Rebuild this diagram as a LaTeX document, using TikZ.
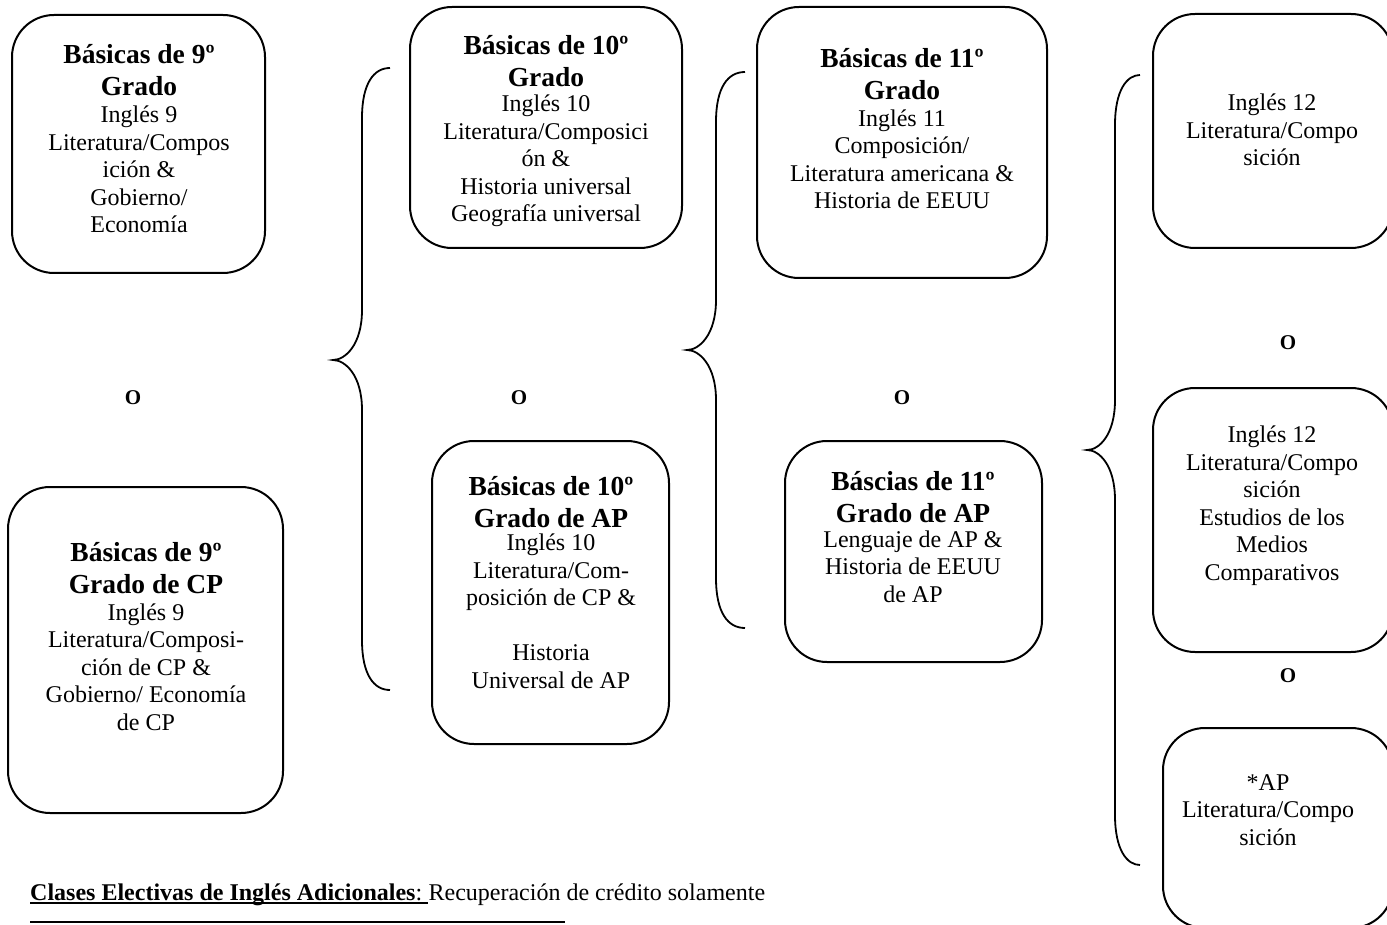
\documentclass[tikz,border=0pt]{standalone}
\usepackage{fontspec}
\setmainfont{Liberation Serif}
\newcommand{\mybrace}[6]{%
  \draw[brc] (#1,#4) .. controls (#2+12,#4) and (#2,#4+15) .. (#2,#4+50)
    -- (#2,#5-50) .. controls (#2,#5-15) and (#3+12,#5) .. (#3,#5)
    .. controls (#3+12,#5) and (#2,#5+15) .. (#2,#5+50)
    -- (#2,#6-50) .. controls (#2,#6-15) and (#2+12,#6) .. (#1,#6);}
\begin{document}
\begin{tikzpicture}[x=1pt,y=-1pt,
  box/.style={draw,line width=2pt,rounded corners=42pt,inner sep=0pt},
  ttl/.style={anchor=base,align=center,inner sep=0pt,font=\fontsize{27.5}{32}\selectfont\bfseries},
  bdy/.style={anchor=base,align=center,inner sep=0pt,font=\fontsize{24}{27.5}\selectfont},
  orl/.style={font=\fontsize{21}{24}\selectfont\bfseries,inner sep=0pt},
  brc/.style={line width=1.8pt}]
\useasboundingbox (0,0) rectangle (1387,925);

% boxes
\node[box,minimum width=253pt,minimum height=258pt] (b1) at (138.5,144) {};
\node[box,minimum width=275pt,minimum height=326pt] (b2) at (145.5,650) {};
\node[box,minimum width=272pt,minimum height=241pt] (b3) at (546,127.5) {};
\node[box,minimum width=237pt,minimum height=303pt] (b4) at (550.5,592.5) {};
\node[box,minimum width=290pt,minimum height=271pt] (b5) at (902,142.5) {};
\node[box,minimum width=257pt,minimum height=221pt] (b6) at (913.5,551.5) {};
\node[box,minimum width=240pt,minimum height=234pt] (b7) at (1273,131) {};
\node[box,minimum width=240pt,minimum height=264pt] (b8) at (1273,520) {};
\node[box,minimum width=230pt,minimum height=200pt] (b9) at (1278,828) {};

% texts (anchor base = baseline of the last line)
\node[ttl] (t1) at (139,96) {Básicas de 9º\\Grado};
\node[bdy] (d1) at (139,233) {Inglés 9\\Literatura/Compos\\ición \&\\Gobierno/\\Economía};

\node[ttl] (t2) at (146,593) {Básicas de 9º\\Grado de CP};
\node[bdy] (d2) at (146,730) {Inglés 9\\Literatura/Composi-\\ción de CP \&\\Gobierno/ Economía\\de CP};

\node[ttl] (t3) at (546,87) {Básicas de 10º\\Grado};
\node[bdy] (d3) at (546,222) {Inglés 10\\Literatura/Composici\\ón \&\\Historia universal\\Geografía universal};

\node[ttl] (t4) at (551,527) {Básicas de 10º\\Grado de AP};
\node[bdy] (d4) at (551,688) {Inglés 10\\Literatura/Com-\\posición de CP \&\\[27.5pt]Historia\\Universal de AP};

\node[ttl] (t5) at (902,100) {Básicas de 11º\\Grado};
\node[bdy] (d5) at (902,209) {Inglés 11\\Composición/\\Literatura americana \&\\Historia de EEUU};

\node[ttl] (t6) at (913,522) {Báscias de 11º\\Grado de AP};
\node[bdy] (d6) at (913,602) {Lenguaje de AP \&\\Historia de EEUU\\de AP};

\node[bdy] (d7) at (1272,166) {Inglés 12\\Literatura/Compo\\sición};
\node[bdy] (d8) at (1272,580) {Inglés 12\\Literatura/Compo\\sición\\Estudios de los\\Medios\\Comparativos};
\node[bdy] (d9) at (1268,845) {*AP\\Literatura/Compo\\sición};

% O labels
\node[orl] (o1) at (133,398) {O};
\node[orl] (o2) at (519,398) {O};
\node[orl] (o3) at (902,398) {O};
\node[orl] (o4) at (1288,343) {O};
\node[orl] (o5) at (1288,676) {O};

% braces
\mybrace{390}{362}{333}{68}{360}{690}
\mybrace{745}{716}{687}{72}{350}{628}
\mybrace{1140}{1115}{1087}{75}{450}{865}

% bottom text
\node[anchor=base west,inner sep=0pt,font=\fontsize{24}{27}\selectfont] (ele) at (30,900)
  {\textbf{Clases Electivas de Inglés Adicionales}:\kern6pt};
\node[anchor=base west,inner sep=0pt,font=\fontsize{24}{27}\selectfont] (rec) at (ele.base east)
  {Recuperación de crédito solamente};
\draw[line width=1.5pt] ([yshift=-3pt]ele.base west) -- ([yshift=-3pt]ele.base east);
\coordinate (l1) at (30,922);
\coordinate (l2) at (565,922);
\draw[line width=2pt] (l1) -- (l2);
\end{tikzpicture}
\end{document}
